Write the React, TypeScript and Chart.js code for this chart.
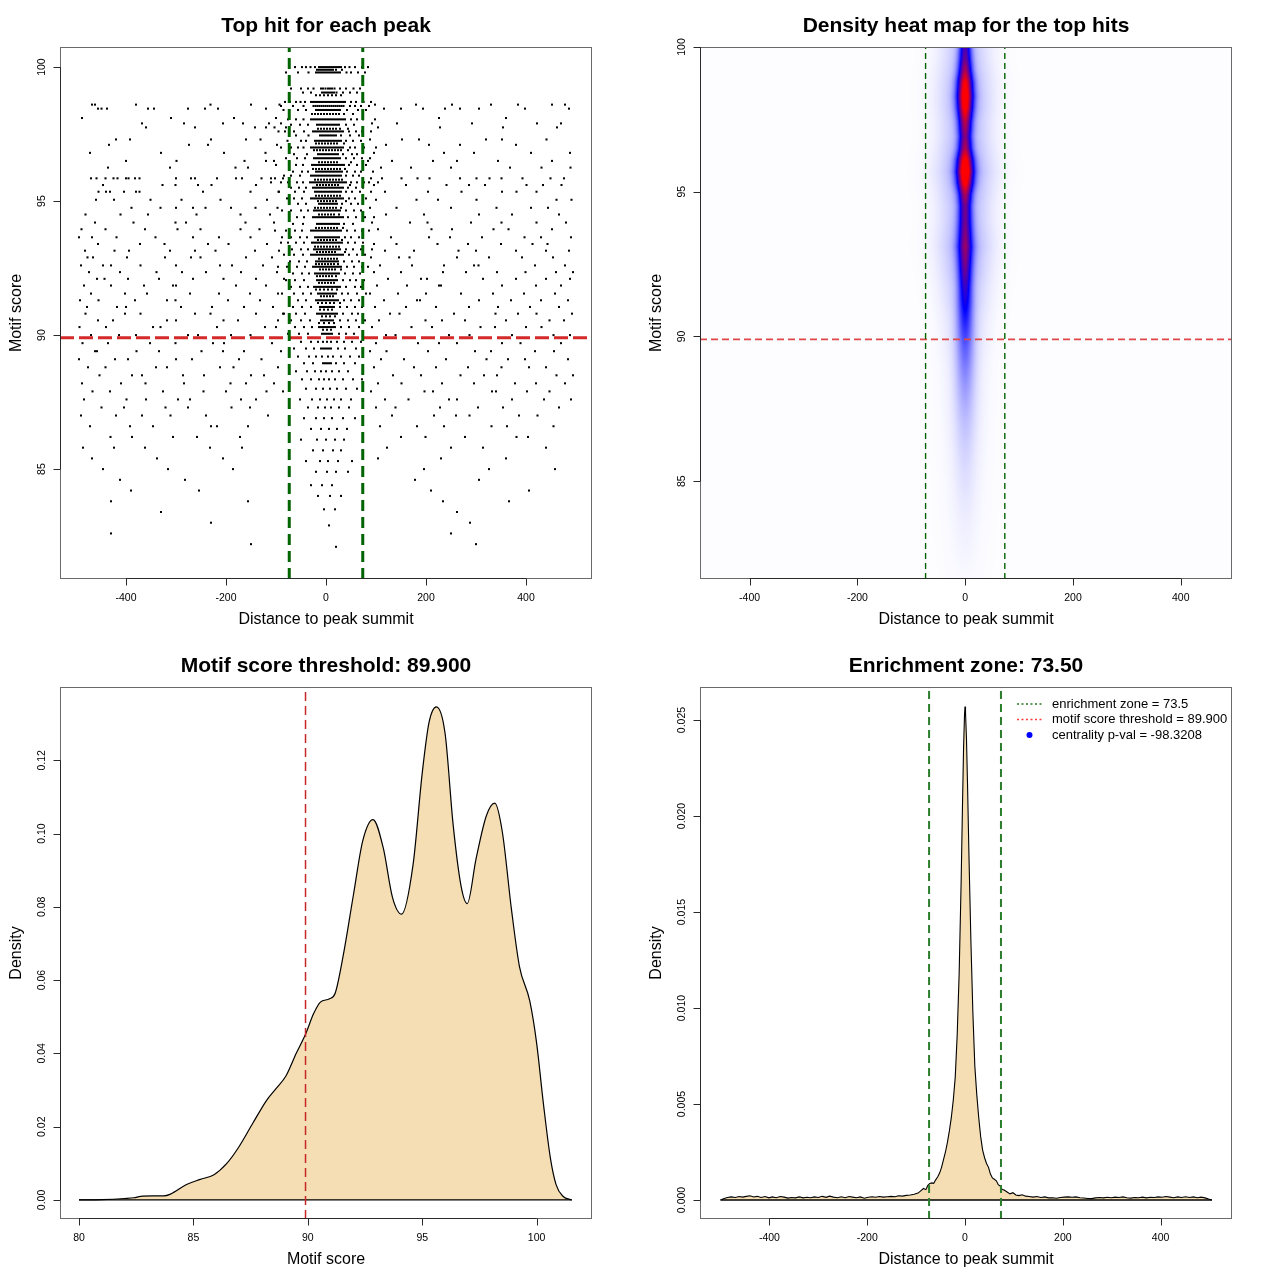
import React, { useEffect, useRef } from "react";
import { Chart, registerables } from "chart.js";

Chart.register(...registerables);

const FONT = '"Liberation Sans", Arial, Helvetica, sans-serif';

// ---------------- shared values ----------------
const enrichmentZone = 73.5;
const scoreThreshold = 89.9;
const distanceTicks = [-400, -200, 0, 200, 400];
const distanceTickLabels = ["-400", "-200", "0", "200", "400"];
const scoreTicks = [85, 90, 95, 100];
const scoreTickLabels = ["85", "90", "95", "100"];

// ---------------- panel 1: top hit per peak ----------------
const centerScores = [100.0, 99.9, 99.8, 99.2, 99.05, 98.95, 98.7, 98.55, 98.4, 98.25, 98.05, 97.85, 97.7, 97.6, 97.45, 97.25, 97.15, 97.0, 96.9, 96.75, 96.6, 96.45, 96.35, 96.2, 96.1, 95.95, 95.8, 95.7, 95.6, 95.5, 95.35, 95.2, 95.1, 95.0, 94.9, 94.75, 94.65, 94.5, 94.4, 94.15, 94.0, 93.9, 93.65, 93.55, 93.45, 93.3, 93.2, 93.1, 93.0, 92.85, 92.75, 92.65, 92.55, 92.45, 92.3, 92.2, 92.05, 91.95, 91.8, 91.7, 91.55, 91.45, 91.3, 91.2, 91.05, 90.95, 90.8, 90.7, 90.55, 90.45, 90.3, 90.2, 90.05, 89.75, 89.5, 89.2, 88.95, 88.65, 88.35, 88.0, 87.6, 87.3, 86.9, 86.5, 86.1, 85.7, 85.3, 84.9, 84.4, 84.0, 83.5, 82.9, 82.1];
const centerHits = [
  [-74, -62, -48, -40, -31, -22, -14, -10, -6, -2, 2, 6, 10, 14, 18, 22, 26, 30, 38, 47, 58, 72, 84],
  [-18, -14, -10, -6, -2, 2, 6, 10, 14, 20, 32],
  [-80, -56, -35, -20, -16, -12, -8, -4, 0, 4, 8, 12, 16, 20, 24, 28, 41, 50, 64, 78],
  [-70, -50, -36, -25, -10, -6, -1, 4, 8, 12, 17, 28, 40, 55, 68],
  [-46, -30, -8, -4, 0, 4, 8, 12, 16, 21, 34, 48, 62],
  [-20, -12, -4, 4, 12, 20, 30],
  [-82, -72, -60, -51, -42, -30, -26, -22, -18, -14, -10, -6, -2, 2, 6, 10, 14, 18, 22, 26, 30, 34, 38, 50, 60, 75, 90],
  [-90, -66, -45, -25, -21, -17, -13, -9, -5, -1, 3, 7, 11, 15, 19, 23, 27, 31, 35, 48, 58, 70, 86],
  [-85, -56, -40, -20, -16, -12, -8, -4, 0, 4, 8, 12, 16, 20, 24, 28, 42, 64, 80],
  [-28, -22, -16, -10, -4, 2, 8, 14, 20, 26, 36, 54],
  [-76, -60, -45, -30, -26, -22, -18, -14, -10, -6, -2, 2, 6, 10, 14, 18, 22, 26, 30, 34, 38, 50, 62, 74, 98],
  [-70, -52, -36, -18, -14, -10, -6, -2, 2, 6, 10, 14, 18, 22, 26, 40, 56],
  [-16, -10, -4, 2, 8, 14, 20, 28, 44],
  [-95, -82, -64, -44, -26, -22, -18, -14, -10, -6, -2, 2, 6, 10, 14, 18, 22, 26, 30, 34, 46, 60, 72, 90],
  [-60, -35, -12, -8, -4, 0, 4, 8, 12, 16, 20, 30, 48, 66],
  [-77, -50, -40, -22, -18, -14, -10, -6, -2, 2, 6, 10, 14, 18, 22, 26, 30, 40, 54, 70],
  [-20, -14, -8, -2, 4, 10, 16, 22, 36],
  [-90, -70, -56, -45, -30, -26, -22, -18, -14, -10, -6, -2, 2, 6, 10, 14, 18, 22, 26, 30, 34, 48, 58, 76, 100],
  [-24, -18, -12, -6, 0, 6, 12, 18, 24, 30, 44],
  [-64, -38, -16, -12, -8, -4, 0, 4, 8, 12, 16, 20, 24, 34, 52, 62],
  [-80, -58, -42, -24, -20, -16, -12, -8, -4, 0, 4, 8, 12, 16, 20, 24, 28, 40, 56, 72, 88],
  [-14, -8, -2, 4, 10, 16, 22, 50],
  [-100, -74, -60, -46, -28, -24, -20, -16, -12, -8, -4, 0, 4, 8, 12, 16, 20, 24, 28, 32, 36, 46, 62, 80],
  [-26, -20, -14, -8, -2, 4, 10, 16, 22, 28, 38],
  [-66, -48, -36, -20, -16, -12, -8, -4, 0, 4, 8, 12, 16, 20, 24, 28, 32, 42, 58, 70, 94],
  [-84, -70, -52, -30, -26, -22, -18, -14, -10, -6, -2, 2, 6, 10, 14, 18, 22, 26, 30, 40, 54, 66],
  [-22, -16, -10, -4, 2, 8, 14, 20, 26, 32],
  [-110, -90, -76, -58, -46, -32, -28, -24, -20, -16, -12, -8, -4, 0, 4, 8, 12, 16, 20, 24, 28, 32, 36, 40, 50, 62, 76, 86, 104],
  [-18, -12, -6, 0, 6, 12, 18, 24, 48],
  [-70, -54, -40, -26, -22, -18, -14, -10, -6, -2, 2, 6, 10, 14, 18, 22, 26, 30, 34, 44, 60, 74],
  [-94, -62, -44, -22, -18, -14, -10, -6, -2, 2, 6, 10, 14, 18, 22, 26, 30, 40, 52, 68, 90],
  [-20, -14, -8, -2, 4, 10, 16, 22, 28],
  [-78, -64, -48, -30, -26, -22, -18, -14, -10, -6, -2, 2, 6, 10, 14, 18, 22, 26, 30, 34, 46, 58, 80],
  [-16, -10, -4, 2, 8, 14, 20, 40],
  [-56, -40, -14, -10, -6, -2, 2, 6, 10, 14, 18, 22, 32, 50, 64],
  [-22, -16, -10, -4, 2, 8, 14, 20, 30],
  [-88, -70, -50, -36, -24, -20, -16, -12, -8, -4, 0, 4, 8, 12, 16, 20, 24, 28, 40, 56, 70],
  [-14, -8, -2, 4, 10, 16, 26],
  [-74, -58, -44, -26, -22, -18, -14, -10, -6, -2, 2, 6, 10, 14, 18, 22, 26, 30, 34, 44, 60, 78, 96],
  [-66, -46, -18, -14, -10, -6, -2, 2, 6, 10, 14, 18, 22, 26, 36, 54],
  [-20, -14, -8, -2, 4, 10, 16, 22, 34],
  [-102, -80, -62, -48, -30, -26, -22, -18, -14, -10, -6, -2, 2, 6, 10, 14, 18, 22, 26, 30, 42, 58, 72, 86],
  [-70, -52, -38, -22, -18, -14, -10, -6, -2, 2, 6, 10, 14, 18, 22, 26, 38, 50, 66],
  [-16, -10, -4, 2, 8, 14, 20, 32],
  [-90, -76, -60, -44, -28, -24, -20, -16, -12, -8, -4, 0, 4, 8, 12, 16, 20, 24, 28, 32, 44, 58, 74],
  [-22, -16, -10, -4, 2, 8, 14, 20, 26],
  [-68, -50, -36, -24, -20, -16, -12, -8, -4, 0, 4, 8, 12, 16, 20, 24, 28, 40, 54, 70, 92],
  [-18, -12, -6, 0, 6, 12, 18, 38],
  [-84, -64, -46, -30, -26, -22, -18, -14, -10, -6, -2, 2, 6, 10, 14, 18, 22, 26, 30, 34, 46, 62, 78],
  [-14, -8, -2, 4, 10, 16, 22],
  [-72, -54, -38, -20, -16, -12, -8, -4, 0, 4, 8, 12, 16, 20, 24, 36, 52, 66],
  [-20, -14, -8, -2, 4, 10, 16, 24],
  [-96, -78, -58, -42, -26, -22, -18, -14, -10, -6, -2, 2, 6, 10, 14, 18, 22, 26, 30, 42, 56, 72, 84],
  [-12, -6, 0, 6, 12, 18, 30],
  [-66, -48, -34, -22, -18, -14, -10, -6, -2, 2, 6, 10, 14, 18, 22, 26, 38, 54, 68],
  [-18, -12, -6, 0, 6, 12, 20],
  [-80, -62, -44, -18, -14, -10, -6, -2, 2, 6, 10, 14, 18, 22, 34, 48, 60, 76],
  [-14, -8, -2, 4, 10, 16],
  [-70, -52, -36, -24, -20, -16, -12, -8, -4, 0, 4, 8, 12, 16, 20, 24, 28, 40, 58, 70],
  [-20, -12, -4, 4, 12, 22],
  [-88, -64, -46, -30, -16, -12, -8, -4, 0, 4, 8, 12, 16, 20, 32, 44, 62, 80],
  [-10, -4, 2, 8, 14],
  [-74, -56, -40, -20, -16, -12, -8, -4, 0, 4, 8, 12, 16, 20, 24, 36, 50, 66],
  [-16, -8, 0, 8, 16, 28],
  [-66, -48, -30, -12, -8, -4, 0, 4, 8, 12, 16, 28, 42, 58, 72],
  [-12, -4, 4, 12],
  [-84, -60, -42, -18, -14, -10, -6, -2, 2, 6, 10, 14, 18, 22, 34, 52, 64],
  [-8, 0, 8, 18],
  [-70, -50, -32, -10, -6, -2, 2, 6, 10, 14, 28, 44, 60, 78],
  [-14, -4, 6, 16],
  [-62, -44, -28, -14, -10, -6, -2, 2, 6, 10, 14, 18, 30, 46, 66],
  [-6, 2, 10],
  [-76, -54, -36, -8, -4, 0, 4, 8, 12, 26, 40, 56],
  [-50, -30, -16, -6, 2, 10, 22, 36, 52, 70],
  [-64, -40, -24, -10, -6, -2, 2, 6, 10, 24, 38, 60],
  [-56, -34, -20, -8, 4, 14, 30, 48, 66],
  [-44, -26, -6, -2, 2, 6, 10, 20, 36, 58],
  [-60, -38, -22, -10, 0, 12, 26, 44],
  [-48, -30, -14, -4, 6, 18, 34, 54, 72],
  [-40, -20, -6, 8, 22, 40, 62],
  [-52, -28, -12, 2, 16, 30, 50],
  [-36, -16, -2, 10, 26, 46],
  [-44, -20, -4, 12, 34, 58],
  [-30, -10, 6, 22, 42],
  [-50, -18, 0, 18, 36],
  [-26, -6, 14, 30],
  [-40, -12, 4, 24, 52],
  [-20, 2, 20, 44],
  [-30, -8, 12],
  [-16, 8, 30],
  [-4, 18],
  [6],
  [20],
];
const sparseScores = [98.6, 98.45, 98.1, 97.9, 97.75, 97.3, 97.1, 96.8, 96.5, 96.25, 95.85, 95.6, 95.35, 95.05, 94.75, 94.5, 94.2, 93.95, 93.65, 93.4, 93.15, 92.9, 92.6, 92.35, 92.1, 91.85, 91.55, 91.3, 91.05, 90.8, 90.55, 90.3, 90.0, 89.7, 89.4, 89.1, 88.8, 88.5, 88.2, 87.9, 87.6, 87.3, 87.0, 86.6, 86.2, 85.8, 85.4, 85.0, 84.6, 84.2, 83.8, 83.4, 83.0, 82.6, 82.2];
const sparseHits = [
  [-468, -462, -380, -231, -150, -93, 98, 180, 252, 330, 384, 452, 478],
  [-456, -449, -438, -356, -344, -276, -242, -216, -120, 116, 150, 194, 238, 268, 306, 398, 486],
  [-488, -310, -184, -100, 226, 360],
  [-368, -284, -206, -166, -114, -90, 92, 142, 292, 422, 470],
  [-360, -262, -142, -120, -103, -80, 104, 228, 354, 462],
  [-420, -392, -230, -160, -131, 88, 152, 186, 320, 352, 441],
  [-434, -274, -236, -98, 120, 206, 268, 380],
  [-472, -330, -204, -121, 96, 236, 296, 410, 488],
  [-400, -299, -163, -120, -104, 84, 132, 214, 262, 344, 452],
  [-436, -312, -181, -156, 110, 170, 250, 368, 431, 489],
  [-470, -459, -441, -425, -417, -400, -395, -382, -373, -300, -270, -262, -218, -180, -168, -129, -110, -102, -86, 90, 112, 151, 183, 207, 268, 301, 327, 351, 393, 449, 476],
  [-446, -327, -301, -256, -229, -140, 96, 160, 241, 286, 318, 401, 434, 471],
  [-455, -440, -432, -404, -380, -373, -246, -151, -95, 118, 204, 271, 352, 381, 421],
  [-460, -424, -351, -289, -211, -118, 100, 181, 224, 301, 461, 491],
  [-389, -331, -300, -266, -241, -190, -141, -97, 88, 141, 250, 341, 410, 444],
  [-481, -411, -356, -259, -171, -112, 120, 196, 306, 372, 466],
  [-462, -385, -301, -280, -161, -104, 92, 168, 203, 290, 351, 421, 480],
  [-489, -441, -362, -297, -251, -171, -133, 104, 211, 252, 335, 365, 452],
  [-494, -468, -419, -341, -266, -214, -151, -88, 130, 206, 248, 312, 397, 430, 490],
  [-456, -372, -323, -236, -195, -118, 96, 141, 223, 284, 350, 413, 443],
  [-482, -423, -394, -312, -262, -221, -142, -94, 118, 176, 265, 300, 380, 440, 486],
  [-477, -466, -398, -322, -270, -251, -160, -108, 90, 146, 167, 262, 326, 392, 454],
  [-490, -446, -430, -371, -300, -212, -188, -126, 108, 172, 236, 296, 305, 418, 478],
  [-474, -412, -339, -288, -240, -170, -98, 96, 150, 234, 280, 342, 399, 460, 494],
  [-458, -443, -396, -334, -266, -205, -140, -84, 124, 190, 202, 314, 380, 440, 488],
  [-484, -430, -364, -306, -300, -180, -120, 102, 162, 226, 230, 352, 420, 470],
  [-470, -402, -358, -272, -214, -152, -96, 88, 144, 200, 270, 334, 396, 458],
  [-492, -455, -382, -318, -301, -196, -132, 116, 182, 188, 306, 370, 430, 484],
  [-478, -418, -400, -290, -228, -164, -106, 98, 160, 220, 286, 344, 408, 466],
  [-481, -402, -371, -262, -231, -140, -86, 128, 147, 256, 339, 384, 421, 492],
  [-456, -426, -318, -300, -205, -176, -96, 106, 199, 232, 278, 360, 447, 476],
  [-493, -440, -346, -331, -218, -122, -100, 92, 171, 212, 309, 338, 400, 431],
  [-470, -414, -380, -276, -256, -190, -151, 120, 139, 246, 287, 372, 455, 488],
  [-487, -436, -352, -301, -226, -204, -108, 100, 184, 226, 262, 352, 389, 470],
  [-462, -458, -379, -334, -249, -206, -164, -90, 88, 121, 204, 298, 330, 418, 456],
  [-494, -422, -396, -300, -268, -174, -129, 110, 156, 240, 321, 364, 398, 484],
  [-476, -441, -340, -318, -212, -185, -96, 96, 176, 220, 284, 351, 406, 440],
  [-453, -388, -368, -286, -244, -150, -124, 134, 190, 269, 316, 342, 461, 494],
  [-488, -410, -361, -284, -191, -160, -104, 104, 151, 232, 296, 378, 420, 478],
  [-467, -432, -326, -245, -200, -119, -86, 90, 197, 214, 332, 340, 402, 447],
  [-484, -399, -360, -296, -272, -170, -140, 118, 165, 246, 262, 372, 436, 490],
  [-449, -404, -321, -276, -189, -152, 100, 139, 228, 304, 354, 466],
  [-490, -420, -368, -311, -240, -116, 132, 216, 260, 287, 386, 423],
  [-472, -392, -346, -230, -218, -156, 108, 182, 236, 331, 362, 455],
  [-431, -388, -306, -258, -172, 150, 199, 278, 381, 404],
  [-486, -424, -362, -232, -168, 122, 250, 314, 440],
  [-468, -338, -206, 104, 230, 360],
  [-446, -316, -186, 196, 326, 458],
  [-412, -282, 178, 306],
  [-390, -254, 210, 406],
  [-430, -156, 234, 366],
  [-330, 262],
  [-230, 288],
  [-430, 250],
  [-150, 300],
];

// ---------------- panel 2: density heat map ----------------
const heatScores = [100, 99.6, 99.2, 98.8, 98.3, 97.9, 97.4, 96.9, 96.5, 96.1, 95.7, 95.3, 94.9, 94.5, 94.0, 93.5, 93.1, 92.7, 92.2, 91.7, 91.2, 90.7, 90.2, 89.6, 89.0, 88.4, 87.7, 87.0, 86.2, 85.3, 84.4, 83.5, 82.5, 81.6];
const heatCore = [0.52, 0.57, 0.68, 0.84, 0.93, 0.87, 0.7, 0.6, 0.67, 0.87, 0.98, 0.85, 0.66, 0.57, 0.56, 0.59, 0.62, 0.59, 0.54, 0.48, 0.42, 0.36, 0.3, 0.24, 0.19, 0.15, 0.11, 0.08, 0.055, 0.035, 0.022, 0.012, 0.006, 0];
const heatCoreWidth = [8, 8.5, 9, 10, 10.5, 10, 9, 8.5, 9, 10.5, 11, 10.5, 9, 8.5, 9, 9.5, 10, 9.5, 9, 9, 9.5, 10, 10.5, 11, 11.5, 12, 12.5, 13, 13, 13, 13, 13, 13, 13];
const heatHalo = [0.12, 0.13, 0.14, 0.15, 0.16, 0.16, 0.15, 0.15, 0.16, 0.17, 0.18, 0.17, 0.16, 0.15, 0.15, 0.16, 0.17, 0.16, 0.15, 0.13, 0.12, 0.1, 0.09, 0.075, 0.065, 0.055, 0.048, 0.04, 0.034, 0.028, 0.022, 0.016, 0.011, 0.006];
const heatHaloWidth = [30, 30, 31, 32, 32, 32, 31, 31, 32, 33, 34, 33, 32, 31, 31, 32, 32, 31, 30, 29, 28, 27, 26, 26, 25, 25, 25, 25, 25, 25, 25, 25, 25, 25];
const heatBackground = 0.004;

// ---------------- panel 3: motif score density ----------------
const scoreDensX = [80.0, 81.0, 82.0, 82.4, 82.7, 83.2, 83.7, 84.0, 84.7, 85.3, 85.9, 86.45, 87.0, 87.6, 88.2, 88.6, 89.05, 89.5, 89.9, 90.25, 90.55, 90.95, 91.2, 91.55, 92.0, 92.4, 92.85, 93.3, 93.7, 94.1, 94.6, 95.0, 95.3, 95.62, 96.0, 96.35, 96.7, 96.97, 97.35, 97.8, 98.17, 98.5, 98.9, 99.25, 99.7, 100.0, 100.3, 100.6, 100.85, 101.15, 101.54];
const scoreDensY = [0, 0.0001, 0.0004, 0.0006, 0.001, 0.0011, 0.0011, 0.0016, 0.0042, 0.0056, 0.0069, 0.0099, 0.0146, 0.021, 0.0272, 0.0303, 0.0339, 0.0401, 0.0452, 0.0508, 0.054, 0.0549, 0.0565, 0.0668, 0.0835, 0.098, 0.1038, 0.096, 0.0826, 0.078, 0.0915, 0.1165, 0.1304, 0.1346, 0.1273, 0.1025, 0.0856, 0.0809, 0.093, 0.1048, 0.1083, 0.1005, 0.0793, 0.0637, 0.0543, 0.0428, 0.0261, 0.0115, 0.0042, 0.001, 0];
const scoreAxisTicks = [80, 85, 90, 95, 100];
const scoreAxisLabels = ["80", "85", "90", "95", "100"];
const scoreDensTicks = [0, 0.02, 0.04, 0.06, 0.08, 0.1, 0.12];
const scoreDensLabels = ["0.00", "0.02", "0.04", "0.06", "0.08", "0.10", "0.12"];

// ---------------- panel 4: distance density ----------------
const distX = [-500, -494, -486, -478, -470, -462, -455, -447, -440, -432, -425, -417, -409, -401, -394, -386, -378, -370, -362, -355, -347, -339, -331, -323, -316, -308, -300, -292, -284, -277, -269, -261, -253, -245, -237, -230, -222, -214, -206, -198, -190, -183, -175, -167, -159, -151, -143, -136, -128, -120, -112, -104, -96, -90, -85, -80, -76, -72, -68, -64, -60, -56, -52, -48, -44, -40, -36, -32, -28, -24, -20, -16, -12, -8, -5, -3, -1, 0, 1, 3, 5, 8, 12, 16, 20, 24, 28, 32, 36, 40, 44, 48, 52, 56, 60, 64, 68, 72, 76, 80, 86, 92, 98, 104, 110, 117, 124, 131, 139, 147, 155, 163, 171, 179, 187, 195, 203, 211, 219, 227, 235, 243, 251, 259, 267, 275, 283, 291, 299, 307, 315, 323, 331, 339, 347, 355, 363, 371, 379, 387, 395, 403, 411, 419, 427, 435, 443, 451, 459, 467, 475, 483, 491, 498, 505];
const distDensityE4 = [0, 0.6, 1.3, 1.6, 1.3, 1.8, 1.5, 1.9, 2.2, 1.6, 1.9, 1.3, 1.8, 1.1, 1.6, 1.2, 1.8, 1.5, 1.0, 1.3, 1.1, 1.6, 1.1, 1.4, 1.2, 1.6, 1.3, 1.9, 1.4, 2.0, 1.5, 1.2, 1.7, 1.2, 1.8, 1.5, 1.2, 1.6, 0.9, 1.4, 1.7, 1.4, 1.8, 1.5, 1.7, 1.9, 1.7, 2.2, 2.0, 2.4, 2.6, 3.0, 3.6, 4.9, 6.0, 5.4, 7.6, 8.6, 8.9, 8.7, 10.5, 12, 14, 17, 21, 25, 30, 36, 43, 52, 64, 86, 118, 165, 208, 235, 253, 257, 254, 240, 218, 180, 135, 98, 70, 55, 43, 33, 26, 22, 19, 17, 13.5, 11.5, 10.8, 10, 8, 7.2, 5.5, 5.2, 4.2, 3.2, 3.8, 2.6, 2.3, 2.7, 2.0, 1.8, 1.5, 1.8, 1.3, 1.6, 1.1, 1.2, 0.9, 1.3, 1.5, 1.6, 1.4, 1.6, 1.2, 1.0, 0.8, 0.7, 1.1, 1.3, 1.1, 1.4, 1.2, 1.5, 1.3, 1.6, 1.2, 1.0, 1.3, 1.2, 1.5, 1.1, 1.4, 1.3, 1.6, 1.4, 1.8, 1.5, 1.2, 1.6, 1.3, 1.7, 1.3, 1.6, 1.2, 1.5, 1.1, 0.5, 0];
const distDensTicks = [0, 0.005, 0.01, 0.015, 0.02, 0.025];
const distDensLabels = ["0.000", "0.005", "0.010", "0.015", "0.020", "0.025"];
const legendLabels = ["enrichment zone = 73.5", "motif score threshold = 89.900", "centrality p-val = -98.3208"];

// ---------------- helpers ----------------
type Frame = {
  title: string;
  xTitle: string;
  yTitle: string;
  xTicks: number[];
  xLabels: string[];
  yTicks: number[];
  yLabels: string[];
  extra?: (chart: any) => void;
};

function rFrame(cfg: Frame) {
  return {
    id: "rFrame",
    afterDraw(chart: any) {
      const { ctx, chartArea: a, scales } = chart;
      const xs = scales.x;
      const ys = scales.y;
      ctx.save();
      ctx.strokeStyle = "#6a6a6a";
      ctx.lineWidth = 1;
      ctx.strokeRect(a.left + 0.5, a.top + 0.5, a.right - a.left - 1, a.bottom - a.top - 1);
      ctx.strokeStyle = "#2a2a2a";
      ctx.fillStyle = "#000";
      const xb = a.bottom - 0.5;
      const xp = cfg.xTicks.map((v) => xs.getPixelForValue(v));
      ctx.beginPath();
      ctx.moveTo(xp[0], xb);
      ctx.lineTo(xp[xp.length - 1], xb);
      xp.forEach((p) => {
        ctx.moveTo(Math.round(p) + 0.5, xb);
        ctx.lineTo(Math.round(p) + 0.5, xb + 7);
      });
      ctx.stroke();
      ctx.font = `10.5px ${FONT}`;
      ctx.textAlign = "center";
      ctx.textBaseline = "middle";
      xp.forEach((p, i) => ctx.fillText(cfg.xLabels[i], p, a.bottom + 19));
      const yl = a.left + 0.5;
      const yp = cfg.yTicks.map((v) => ys.getPixelForValue(v));
      ctx.beginPath();
      ctx.moveTo(yl, yp[0]);
      ctx.lineTo(yl, yp[yp.length - 1]);
      yp.forEach((p) => {
        ctx.moveTo(yl, Math.round(p) + 0.5);
        ctx.lineTo(yl - 7, Math.round(p) + 0.5);
      });
      ctx.stroke();
      yp.forEach((p, i) => {
        ctx.save();
        ctx.translate(a.left - 18, p);
        ctx.rotate(-Math.PI / 2);
        ctx.fillText(cfg.yLabels[i], 0, 0);
        ctx.restore();
      });
      const cx = (a.left + a.right) / 2;
      const cy = (a.top + a.bottom) / 2;
      ctx.font = `bold 21px ${FONT}`;
      ctx.textBaseline = "alphabetic";
      ctx.fillText(cfg.title, cx, 32);
      ctx.font = `16px ${FONT}`;
      ctx.textBaseline = "middle";
      ctx.fillText(cfg.xTitle, cx, a.bottom + 41);
      ctx.save();
      ctx.translate(17, cy);
      ctx.rotate(-Math.PI / 2);
      ctx.fillText(cfg.yTitle, 0, 0);
      ctx.restore();
      if (cfg.extra) cfg.extra(chart);
      ctx.restore();
    },
  };
}

function interpDesc(keys: number[], vals: number[], s: number): number {
  if (s >= keys[0]) return vals[0];
  for (let i = 0; i < keys.length - 1; i++) {
    if (s <= keys[i] && s >= keys[i + 1]) {
      const t = (keys[i] - s) / (keys[i] - keys[i + 1]);
      return vals[i] + (vals[i + 1] - vals[i]) * t;
    }
  }
  return vals[vals.length - 1];
}

function heatColor(v: number): [number, number, number] {
  const c = Math.max(0, Math.min(1, v));
  if (c <= 0.5) {
    const t = c / 0.5;
    return [255 * (1 - t), 255 * (1 - t), 255];
  }
  const t = (c - 0.5) / 0.5;
  return [255 * t, 0, 255 * (1 - t)];
}

const heatPlugin = {
  id: "heat",
  beforeDatasetsDraw(chart: any) {
    const { ctx, chartArea: a, scales } = chart;
    const xs = scales.x;
    const ys = scales.y;
    const w = Math.round(a.right - a.left);
    const h = Math.round(a.bottom - a.top);
    const off = document.createElement("canvas");
    off.width = w;
    off.height = h;
    const octx = off.getContext("2d")!;
    const img = octx.createImageData(w, h);
    const colX: number[] = [];
    for (let i = 0; i < w; i++) colX.push(xs.getValueForPixel(a.left + i + 0.5));
    for (let j = 0; j < h; j++) {
      const s = ys.getValueForPixel(a.top + j + 0.5);
      const core = interpDesc(heatScores, heatCore, s);
      const cw = interpDesc(heatScores, heatCoreWidth, s);
      const halo = interpDesc(heatScores, heatHalo, s);
      const hw = interpDesc(heatScores, heatHaloWidth, s);
      for (let i = 0; i < w; i++) {
        const x = colX[i];
        const v = heatBackground + core * Math.exp(-0.5 * (x / cw) ** 2) + halo * Math.exp(-0.5 * (x / hw) ** 2);
        const [r, g, b] = heatColor(v);
        const k = (j * w + i) * 4;
        img.data[k] = r;
        img.data[k + 1] = g;
        img.data[k + 2] = b;
        img.data[k + 3] = 255;
      }
    }
    octx.putImageData(img, 0, 0);
    ctx.drawImage(off, a.left, a.top, w, h);
  },
};

function baseOptions(xMin: number, xMax: number, yMin: number, yMax: number) {
  return {
    animation: false,
    responsive: false,
    events: [],
    layout: { padding: { left: 60, top: 47, right: 48, bottom: 61 } },
    plugins: { legend: { display: false }, tooltip: { enabled: false }, title: { display: false } },
    scales: {
      x: { type: "linear", min: xMin, max: xMax, display: false },
      y: { type: "linear", min: yMin, max: yMax, display: false },
    },
  };
}

function refLine(pts: { x: number; y: number }[], color: string, width: number, dash: number[], order = 0) {
  return {
    data: pts,
    borderColor: color,
    backgroundColor: color,
    borderWidth: width,
    borderDash: dash,
    pointRadius: 0,
    showLine: true,
    fill: false,
    tension: 0,
    order,
  };
}

// ---------------- chart builders ----------------
function makeHits(canvas: HTMLCanvasElement) {
  const xMin = -532, xMax = 532, yMin = 80.9, yMax = 100.75;
  const pts: { x: number; y: number }[] = [];
  centerScores.forEach((s, i) => (centerHits[i] || []).forEach((x) => pts.push({ x, y: s })));
  sparseScores.forEach((s, i) => (sparseHits[i] || []).forEach((x) => pts.push({ x, y: s })));
  return new Chart(canvas, {
    type: "line",
    data: {
      datasets: [
        {
          data: pts,
          showLine: false,
          pointStyle: "rect",
          pointRadius: 1.45,
          pointBorderWidth: 0,
          pointBackgroundColor: "#000",
          backgroundColor: "#000",
          borderColor: "#000",
          order: 2,
        },
        refLine([{ x: xMin, y: scoreThreshold }, { x: xMax, y: scoreThreshold }], "#d42a2a", 3, [14, 5], 1),
        refLine([{ x: -enrichmentZone, y: yMin }, { x: -enrichmentZone, y: yMax }], "#006400", 3, [11, 6], 0),
        refLine([{ x: enrichmentZone, y: yMin }, { x: enrichmentZone, y: yMax }], "#006400", 3, [11, 6], 0),
      ],
    },
    options: baseOptions(xMin, xMax, yMin, yMax) as any,
    plugins: [
      rFrame({
        title: "Top hit for each peak",
        xTitle: "Distance to peak summit",
        yTitle: "Motif score",
        xTicks: distanceTicks,
        xLabels: distanceTickLabels,
        yTicks: scoreTicks,
        yLabels: scoreTickLabels,
      }),
    ],
  } as any);
}

function makeHeat(canvas: HTMLCanvasElement) {
  const xMin = -492, xMax = 495, yMin = 81.62, yMax = 100;
  return new Chart(canvas, {
    type: "line",
    data: {
      datasets: [
        refLine([{ x: xMin, y: scoreThreshold }, { x: xMax, y: scoreThreshold }], "#e04848", 1.6, [7, 4], 1),
        refLine([{ x: -enrichmentZone, y: yMin }, { x: -enrichmentZone, y: yMax }], "#006400", 1.4, [6, 4], 0),
        refLine([{ x: enrichmentZone, y: yMin }, { x: enrichmentZone, y: yMax }], "#006400", 1.4, [6, 4], 0),
      ],
    },
    options: baseOptions(xMin, xMax, yMin, yMax) as any,
    plugins: [
      heatPlugin,
      rFrame({
        title: "Density heat map for the top hits",
        xTitle: "Distance to peak summit",
        yTitle: "Motif score",
        xTicks: distanceTicks,
        xLabels: distanceTickLabels,
        yTicks: scoreTicks,
        yLabels: scoreTickLabels,
      }),
    ],
  } as any);
}

function makeScoreDensity(canvas: HTMLCanvasElement) {
  const xMin = 79.17, xMax = 102.42, yMin = -0.0052, yMax = 0.14;
  const pts = scoreDensX.map((x, i) => ({ x, y: scoreDensY[i] }));
  return new Chart(canvas, {
    type: "line",
    data: {
      datasets: [
        refLine([{ x: scoreThreshold, y: yMin }, { x: scoreThreshold, y: yMax }], "#c62828", 1.5, [9, 5], 0),
        refLine([{ x: scoreDensX[0], y: 0 }, { x: scoreDensX[scoreDensX.length - 1], y: 0 }], "#000", 1.3, [], 1),
        {
          data: pts,
          showLine: true,
          fill: "origin",
          backgroundColor: "#F5DEB3",
          borderColor: "#000",
          borderWidth: 1.2,
          pointRadius: 0,
          cubicInterpolationMode: "monotone",
          order: 2,
        },
      ],
    },
    options: baseOptions(xMin, xMax, yMin, yMax) as any,
    plugins: [
      rFrame({
        title: "Motif score threshold: 89.900",
        xTitle: "Motif score",
        yTitle: "Density",
        xTicks: scoreAxisTicks,
        xLabels: scoreAxisLabels,
        yTicks: scoreDensTicks,
        yLabels: scoreDensLabels,
      }),
    ],
  } as any);
}

function makeDistDensity(canvas: HTMLCanvasElement) {
  const xMin = -542, xMax = 546, yMin = -0.00099, yMax = 0.02672;
  const pts = distX.map((x, i) => ({ x, y: distDensityE4[i] / 10000 }));
  return new Chart(canvas, {
    type: "line",
    data: {
      datasets: [
        refLine([{ x: -enrichmentZone, y: yMin }, { x: -enrichmentZone, y: yMax }], "#2a7d2a", 2, [8, 5], 0),
        refLine([{ x: enrichmentZone, y: yMin }, { x: enrichmentZone, y: yMax }], "#2a7d2a", 2, [8, 5], 0),
        refLine([{ x: distX[0], y: 0 }, { x: distX[distX.length - 1], y: 0 }], "#000", 1.3, [], 1),
        {
          data: pts,
          showLine: true,
          fill: "origin",
          backgroundColor: "#F5DEB3",
          borderColor: "#000",
          borderWidth: 1.1,
          pointRadius: 0,
          tension: 0,
          order: 2,
        },
      ],
    },
    options: baseOptions(xMin, xMax, yMin, yMax) as any,
    plugins: [
      rFrame({
        title: "Enrichment zone: 73.50",
        xTitle: "Distance to peak summit",
        yTitle: "Density",
        xTicks: distanceTicks,
        xLabels: distanceTickLabels,
        yTicks: distDensTicks,
        yLabels: distDensLabels,
        extra: (chart: any) => {
          const { ctx, chartArea: a } = chart;
          const sx0 = a.left + 317;
          const sx1 = a.left + 342;
          const tx = a.left + 352;
          const rows = [a.top + 17, a.top + 32.5, a.top + 48];
          ctx.save();
          ctx.lineWidth = 1.5;
          ctx.setLineDash([2, 2.5]);
          ctx.strokeStyle = "#1f7a1f";
          ctx.beginPath();
          ctx.moveTo(sx0, rows[0]);
          ctx.lineTo(sx1, rows[0]);
          ctx.stroke();
          ctx.strokeStyle = "#ff3b3b";
          ctx.beginPath();
          ctx.moveTo(sx0, rows[1]);
          ctx.lineTo(sx1, rows[1]);
          ctx.stroke();
          ctx.setLineDash([]);
          ctx.fillStyle = "#0000ff";
          ctx.beginPath();
          ctx.arc((sx0 + sx1) / 2, rows[2], 3, 0, Math.PI * 2);
          ctx.fill();
          ctx.fillStyle = "#000";
          ctx.font = `13px ${FONT}`;
          ctx.textAlign = "left";
          ctx.textBaseline = "middle";
          legendLabels.forEach((t, i) => ctx.fillText(t, tx, rows[i]));
          ctx.restore();
        },
      }),
    ],
  } as any);
}

function Panel({ left, top, make }: { left: number; top: number; make: (c: HTMLCanvasElement) => Chart }) {
  const ref = useRef<HTMLCanvasElement>(null);
  useEffect(() => {
    if (!ref.current) return;
    const chart = make(ref.current);
    return () => chart.destroy();
  }, []);
  return (
    <canvas
      ref={ref}
      width={640}
      height={640}
      style={{ position: "absolute", left, top, width: 640, height: 640 }}
    />
  );
}

export default function App() {
  return (
    <div style={{ position: "absolute", left: 0, top: 0, width: 1280, height: 1280, background: "#fff", overflow: "hidden" }}>
      <Panel left={0} top={0} make={makeHits} />
      <Panel left={640} top={0} make={makeHeat} />
      <Panel left={0} top={640} make={makeScoreDensity} />
      <Panel left={640} top={640} make={makeDistDensity} />
    </div>
  );
}
